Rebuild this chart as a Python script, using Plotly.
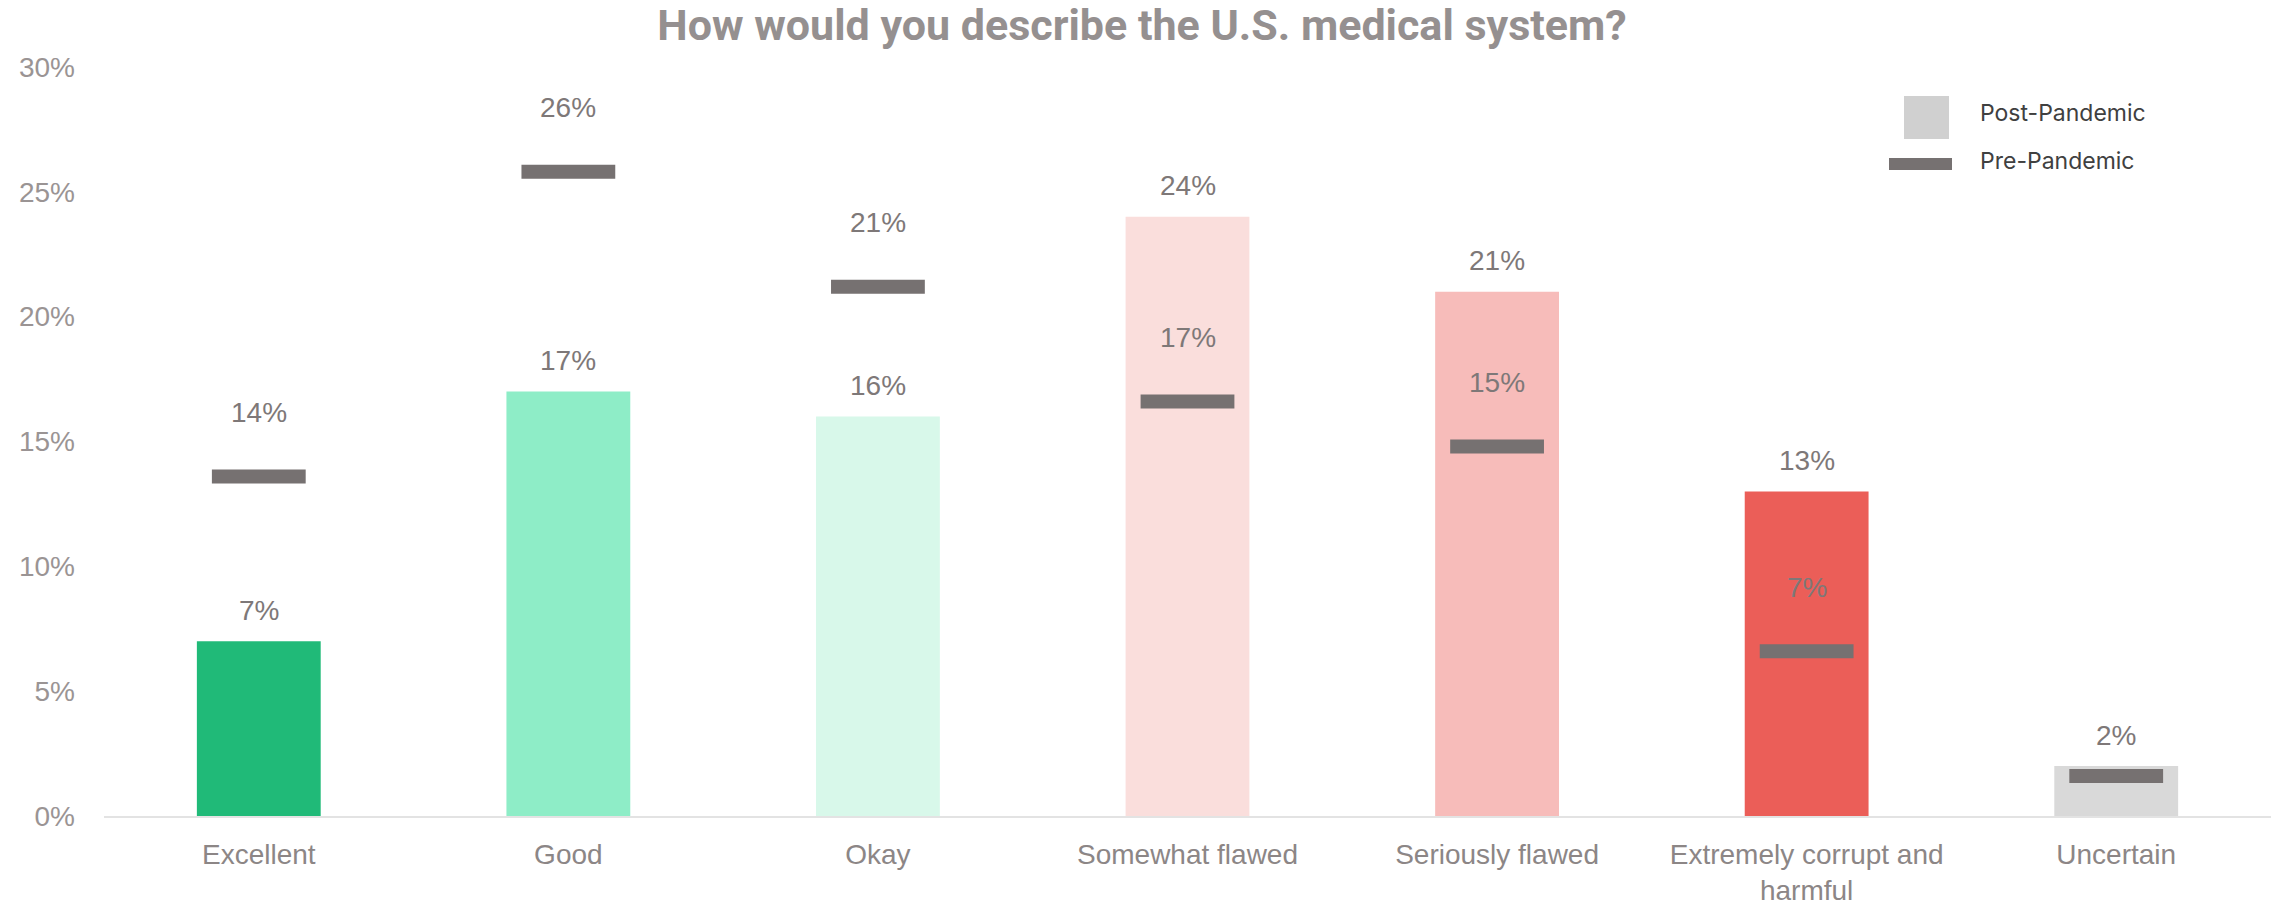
import math
import plotly.graph_objects as go

# Survey data (percent of respondents)
categories = [
    "Excellent",
    "Good",
    "Okay",
    "Somewhat flawed",
    "Seriously flawed",
    "Extremely corrupt and<br>harmful",
    "Uncertain",
]
post_pandemic = [7, 17, 16, 24, 21, 13, 2]
pre_pandemic = [13.6, 25.8, 21.2, 16.6, 14.8, 6.6, 1.6]
# the pre-pandemic label for "Uncertain" is hidden behind the bar label
show_pre_label = [True, True, True, True, True, True, False]
bar_colors = ["#20BA78", "#8EEDC7", "#D8F8EA", "#FADEDC", "#F7BCBA", "#EB5E58", "#D9D9D9"]
y_ticks = [0, 5, 10, 15, 20, 25, 30]
y_tick_text = [f"{v}%" for v in y_ticks]

W, H = 2280, 909
M_L, M_R, M_T, M_B = 104, 9, 67, 93
PLOT_W = W - M_L - M_R
PLOT_H = H - M_T - M_B

MARK_COLOR = "#767171"
LABEL_COLOR = "#7E7878"
AXIS_TEXT = "#8C8686"
FONT = "Liberation Sans, Arial, sans-serif"


def pct_label(v):
    return f"{math.floor(v + 0.5)}%"


def px_x(x):
    return (x - M_L) / PLOT_W


def px_y(y):
    return (H - M_B - y) / PLOT_H


fig = go.Figure()

fig.add_trace(go.Bar(
    x=categories,
    y=post_pandemic,
    marker=dict(color=bar_colors, line=dict(width=0)),
    width=0.4,
    name="Post-Pandemic",
    showlegend=False,
    hoverinfo="skip",
))

fig.add_trace(go.Scatter(
    x=categories,
    y=pre_pandemic,
    mode="markers",
    marker=dict(symbol="line-ew", size=67, line=dict(width=14, color=MARK_COLOR)),
    name="Pre-Pandemic",
    showlegend=False,
    hoverinfo="skip",
))

annotations = []
for cat, v in zip(categories, post_pandemic):
    annotations.append(dict(
        x=cat, y=v, xref="x", yref="y", text=pct_label(v), showarrow=False,
        yanchor="middle", yshift=31, font=dict(size=28, color=LABEL_COLOR, family=FONT),
    ))
for cat, v, show in zip(categories, pre_pandemic, show_pre_label):
    if not show:
        continue
    annotations.append(dict(
        x=cat, y=v, xref="x", yref="y", text=pct_label(v), showarrow=False,
        yanchor="middle", yshift=64, font=dict(size=28, color=LABEL_COLOR, family=FONT),
    ))

# Legend entries
annotations.append(dict(
    x=px_x(1978), y=px_y(113), xref="paper", yref="paper", text="Post-Pandemic",
    showarrow=False, xanchor="left", yanchor="middle",
    font=dict(size=23, color="#404040", family="Inter, sans-serif"),
))
annotations.append(dict(
    x=px_x(1978), y=px_y(161), xref="paper", yref="paper", text="Pre-Pandemic",
    showarrow=False, xanchor="left", yanchor="middle",
    font=dict(size=23, color="#404040", family="Inter, sans-serif"),
))

shapes = [
    dict(type="rect", xref="paper", yref="paper",
         x0=px_x(1904), x1=px_x(1949), y0=px_y(139), y1=px_y(96),
         fillcolor="#D0D0D0", line=dict(width=0)),
    dict(type="rect", xref="paper", yref="paper",
         x0=px_x(1889), x1=px_x(1952), y0=px_y(170), y1=px_y(158),
         fillcolor=MARK_COLOR, line=dict(width=0)),
]

fig.update_layout(
    width=W,
    height=H,
    margin=dict(l=M_L, r=M_R, t=M_T, b=M_B, autoexpand=False),
    paper_bgcolor="white",
    plot_bgcolor="white",
    title=dict(
        text="<b>How would you describe the U.S. medical system?</b>",
        x=1142 / W, xanchor="center", y=1 - 25 / H, yanchor="middle",
        font=dict(size=43, color="#959090", family="Roboto, sans-serif"),
    ),
    bargap=0.6,
    annotations=annotations,
    shapes=shapes,
    showlegend=False,
)

fig.update_xaxes(
    showline=True, linecolor="#E3E3E3", linewidth=2,
    showgrid=False, ticks="", ticklabelstandoff=12,
    tickfont=dict(size=28, color=AXIS_TEXT, family=FONT),
)
fig.update_yaxes(
    range=[0, 30], tickmode="array", tickvals=y_ticks, ticktext=y_tick_text,
    showgrid=False, zeroline=False, showline=False, ticks="",
    ticklabelstandoff=28,
    tickfont=dict(size=28, color="#9A9494", family=FONT),
)

fig.write_html("out.html")
